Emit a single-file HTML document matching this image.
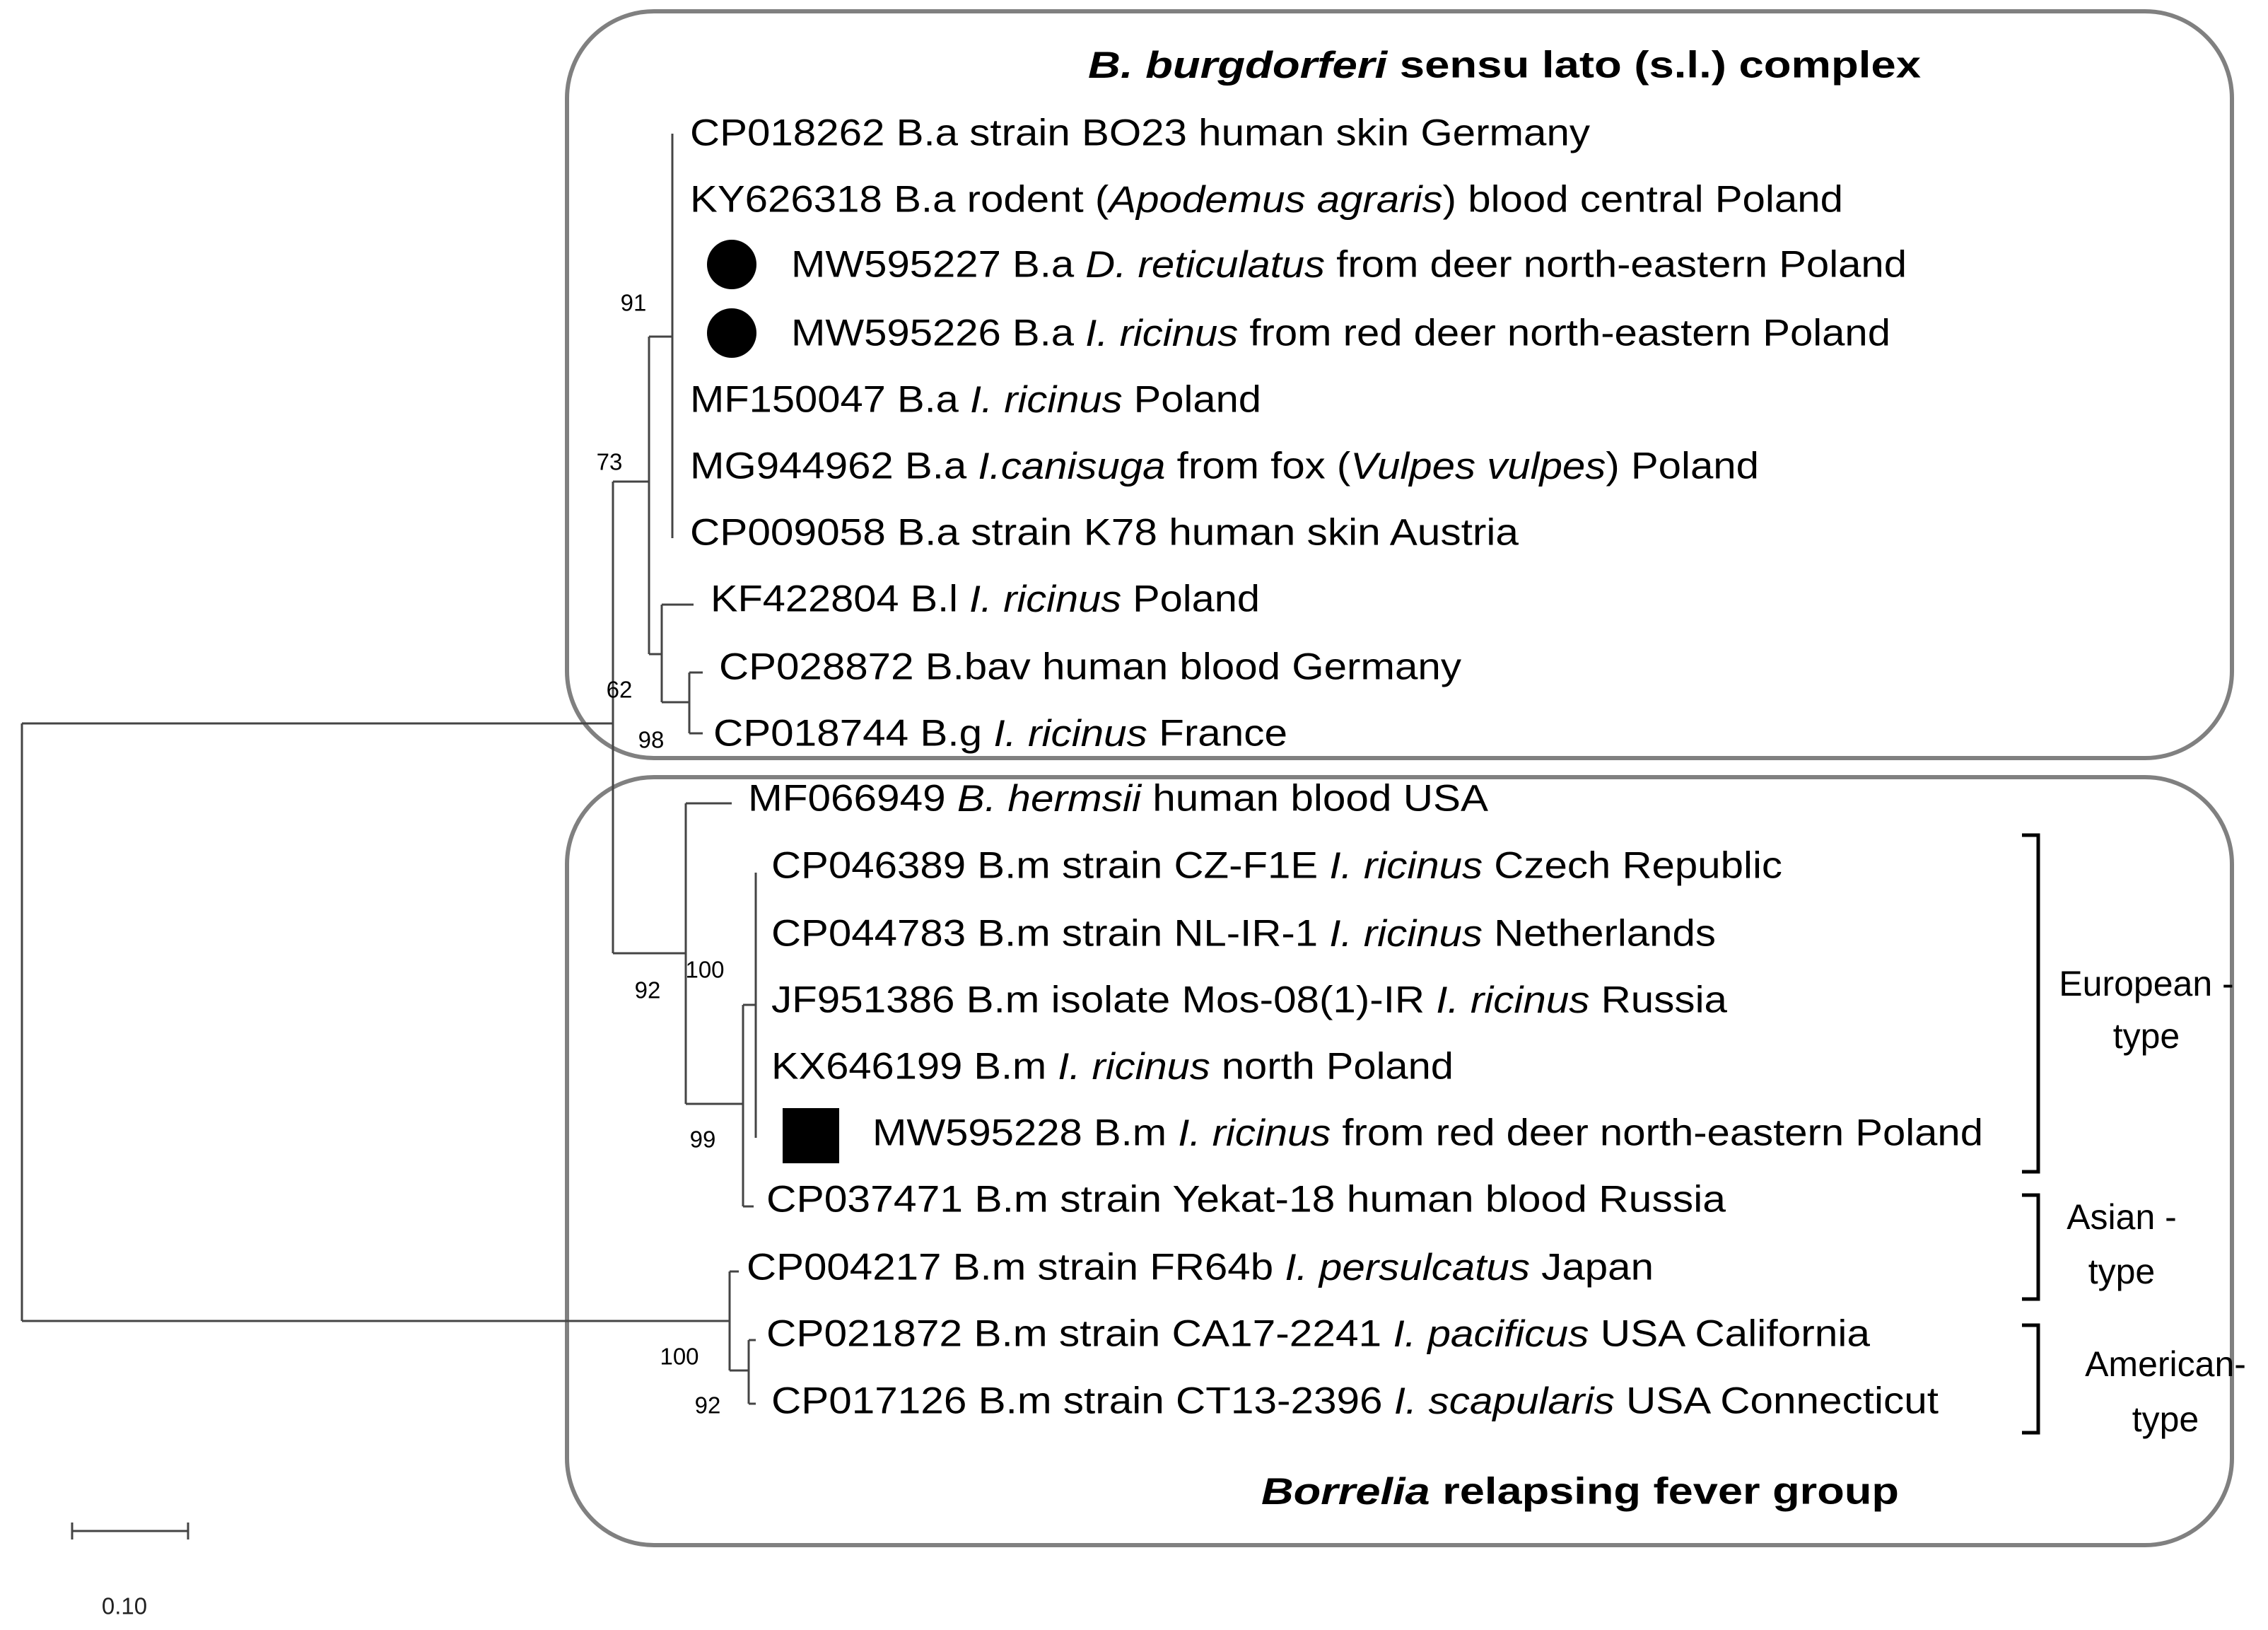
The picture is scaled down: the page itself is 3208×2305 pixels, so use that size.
<!DOCTYPE html>
<html><head><meta charset="utf-8"><style>
html,body{margin:0;padding:0;background:#fff;}
svg{display:block;}
text{font-family:"Liberation Sans",Arial,sans-serif;fill:#000;}
.t{font-size:53px;}
.b{font-size:33px;fill:#222;}
.l{font-size:50px;}
</style></head><body>
<svg width="3208" height="2305" viewBox="0 0 3208 2305" xmlns="http://www.w3.org/2000/svg">
<rect x="0" y="0" width="3208" height="2305" fill="#fff"/>
<!-- boxes -->
<rect x="802" y="16" width="2355" height="1056" rx="123" ry="123" fill="none" stroke="#808080" stroke-width="6"/>
<rect x="802" y="1099" width="2355" height="1086" rx="123" ry="123" fill="none" stroke="#808080" stroke-width="6"/>
<!-- tree -->
<g stroke="#444" stroke-width="3" fill="none">
<path d="M31 1023 V1868 M31 1023 H867 M31 1868 H1032"/>
<path d="M867 681 V1348 M867 681 H918 M918 476 V925 M918 476 H951 M951 189 V761"/>
<path d="M918 925 H936 M936 855 V993 M936 855 H981 M936 993 H975 M975 951 V1037 M975 951 H994 M975 1037 H994"/>
<path d="M867 1348 H970 M970 1136 V1561 M970 1136 H1035 M970 1561 H1051 M1051 1421 V1706 M1051 1706 H1066 M1051 1421 H1069 M1069 1234 V1609"/>
<path d="M1032 1798 V1938 M1032 1798 H1045 M1032 1938 H1059 M1059 1895 V1985 M1059 1895 H1069 M1059 1985 H1069"/>
</g>
<!-- bootstrap -->
<g class="b" text-anchor="middle" dominant-baseline="central">
<text x="896" y="428">91</text><text x="862" y="653">73</text><text x="876" y="975">62</text><text x="921" y="1046">98</text>
<text x="997" y="1371">100</text><text x="916" y="1400">92</text><text x="994" y="1611">99</text>
<text x="961" y="1918">100</text><text x="1001" y="1987">92</text>
</g>
<!-- markers -->
<circle cx="1035" cy="374" r="35" fill="#000"/>
<circle cx="1035" cy="471" r="35" fill="#000"/>
<rect x="1107" y="1567" width="80" height="78" fill="#000"/>
<!-- titles -->
<text class="t" x="1539" y="92" dominant-baseline="central" font-weight="bold" font-size="56" textLength="1178" lengthAdjust="spacingAndGlyphs"><tspan font-style="italic">B. burgdorferi</tspan> sensu lato (s.l.) complex</text>
<text class="t" x="1784" y="2109" dominant-baseline="central" font-weight="bold" font-size="56" textLength="902" lengthAdjust="spacingAndGlyphs"><tspan font-style="italic">Borrelia</tspan> relapsing fever group</text>
<!-- leaf labels -->
<g class="t" dominant-baseline="central">
<text x="976" y="188" textLength="1273" lengthAdjust="spacingAndGlyphs">CP018262 B.a strain BO23 human skin Germany</text>
<text x="976" y="282" textLength="1631" lengthAdjust="spacingAndGlyphs">KY626318 B.a rodent (<tspan font-style="italic">Apodemus agraris</tspan>) blood central Poland</text>
<text x="1119" y="374" textLength="1578" lengthAdjust="spacingAndGlyphs">MW595227 B.a <tspan font-style="italic">D. reticulatus</tspan> from deer north-eastern Poland</text>
<text x="1119" y="471" textLength="1555" lengthAdjust="spacingAndGlyphs">MW595226 B.a <tspan font-style="italic">I. ricinus</tspan> from red deer north-eastern Poland</text>
<text x="976" y="565" textLength="808" lengthAdjust="spacingAndGlyphs">MF150047 B.a <tspan font-style="italic">I. ricinus</tspan> Poland</text>
<text x="976" y="659" textLength="1512" lengthAdjust="spacingAndGlyphs">MG944962 B.a <tspan font-style="italic">I.canisuga</tspan> from fox (<tspan font-style="italic">Vulpes vulpes</tspan>) Poland</text>
<text x="976" y="753" textLength="1172" lengthAdjust="spacingAndGlyphs">CP009058 B.a strain K78 human skin Austria</text>
<text x="1005" y="847" textLength="777" lengthAdjust="spacingAndGlyphs">KF422804 B.l <tspan font-style="italic">I. ricinus</tspan> Poland</text>
<text x="1017" y="943" textLength="1050" lengthAdjust="spacingAndGlyphs">CP028872 B.bav human blood Germany</text>
<text x="1009" y="1037" textLength="812" lengthAdjust="spacingAndGlyphs">CP018744 B.g <tspan font-style="italic">I. ricinus</tspan> France</text>
<text x="1058" y="1129" textLength="1047" lengthAdjust="spacingAndGlyphs">MF066949 <tspan font-style="italic">B. hermsii</tspan> human blood USA</text>
<text x="1091" y="1224" textLength="1430" lengthAdjust="spacingAndGlyphs">CP046389 B.m strain CZ-F1E <tspan font-style="italic">I. ricinus</tspan> Czech Republic</text>
<text x="1091" y="1320" textLength="1336" lengthAdjust="spacingAndGlyphs">CP044783 B.m strain NL-IR-1 <tspan font-style="italic">I. ricinus</tspan> Netherlands</text>
<text x="1091" y="1414" textLength="1352" lengthAdjust="spacingAndGlyphs">JF951386 B.m isolate Mos-08(1)-IR <tspan font-style="italic">I. ricinus</tspan> Russia</text>
<text x="1091" y="1508" textLength="965" lengthAdjust="spacingAndGlyphs">KX646199 B.m <tspan font-style="italic">I. ricinus</tspan> north Poland</text>
<text x="1234" y="1602" textLength="1571" lengthAdjust="spacingAndGlyphs">MW595228 B.m <tspan font-style="italic">I. ricinus</tspan> from red deer north-eastern Poland</text>
<text x="1084" y="1696" textLength="1357" lengthAdjust="spacingAndGlyphs">CP037471 B.m strain Yekat-18 human blood Russia</text>
<text x="1056" y="1792" textLength="1283" lengthAdjust="spacingAndGlyphs">CP004217 B.m strain FR64b <tspan font-style="italic">I. persulcatus</tspan> Japan</text>
<text x="1084" y="1886" textLength="1561" lengthAdjust="spacingAndGlyphs">CP021872 B.m strain CA17-2241 <tspan font-style="italic">I. pacificus</tspan> USA California</text>
<text x="1091" y="1981" textLength="1651" lengthAdjust="spacingAndGlyphs">CP017126 B.m strain CT13-2396 <tspan font-style="italic">I. scapularis</tspan> USA Connecticut</text>
</g>
<!-- brackets -->
<g stroke="#000" stroke-width="5" fill="none">
<path d="M2860 1181 H2883 V1657 H2860"/>
<path d="M2860 1690 H2883 V1837 H2860"/>
<path d="M2860 1874 H2883 V2026 H2860"/>
</g>
<g class="l" text-anchor="middle" dominant-baseline="central">
<text x="3036" y="1391">European -</text><text x="3036" y="1465">type</text>
<text x="3001" y="1721">Asian -</text><text x="3001" y="1798">type</text>
<text x="3063" y="1929">American-</text><text x="3063" y="2007">type</text>
</g>
<!-- scale bar -->
<g stroke="#444" stroke-width="3"><path d="M102 2165 H266 M102 2153 V2177 M266 2153 V2177"/></g>
<text class="b" x="176" y="2271" text-anchor="middle" dominant-baseline="central">0.10</text>
</svg>
</body></html>
